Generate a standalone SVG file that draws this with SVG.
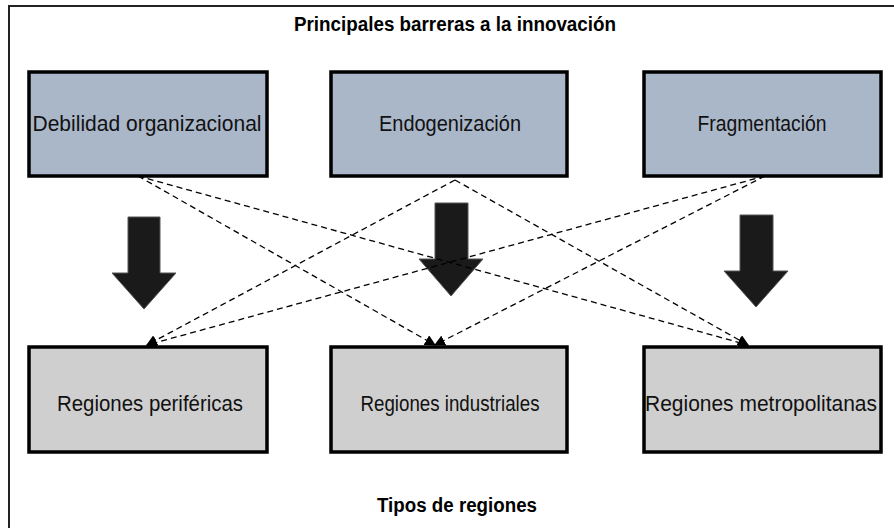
<svg xmlns="http://www.w3.org/2000/svg" width="894" height="528" viewBox="0 0 894 528">
  <defs>
    <style>
      .frame { fill: #ffffff; stroke: #222222; stroke-width: 2; }
      .top { fill: #aab7c9; stroke: #000000; stroke-width: 3.5; }
      .bot { fill: #d0cfd0; stroke: #000000; stroke-width: 3.5; }
      .lbl { font-family: "Liberation Sans", Arial, sans-serif; font-size: 22px; fill: #111111; text-anchor: middle; }
      .ttl { font-family: "Liberation Sans", Arial, sans-serif; font-size: 20px; font-weight: bold; fill: #000000; text-anchor: middle; }
      .dash { fill: none; stroke: #000000; stroke-width: 1.3; stroke-dasharray: 6 4; marker-end: url(#ah); }
      .big { fill: #1a1a1a; stroke: #555555; stroke-width: 1; }
    </style>
    <marker id="ah" viewBox="0 0 10 10" refX="9" refY="5" markerWidth="11" markerHeight="11" markerUnits="userSpaceOnUse" orient="auto">
      <path d="M0,0 L10,5 L0,10 Z" fill="#000000"/>
    </marker>
  </defs>

  <rect x="0" y="0" width="894" height="528" fill="#ffffff"/>
  <rect class="frame" x="9" y="6" width="900" height="540"/>

  <text id="title" class="ttl" x="455" y="31" textLength="322" lengthAdjust="spacingAndGlyphs">Principales barreras a la innovación</text>
  <text id="subtitle" class="ttl" x="457" y="512" textLength="160" lengthAdjust="spacingAndGlyphs">Tipos de regiones</text>

  <g id="big-arrows">
    <path class="big" d="M128,217 H160 V273 H176 L144,309 L112,273 H128 Z"/>
    <path class="big" d="M435,203 H468 V259 H483 L451,296 L419,259 H435 Z"/>
    <path class="big" d="M740,215 H773 V271 H788 L756,307 L724,271 H740 Z"/>
  </g>

  <g id="node-debilidad">
    <rect class="top" x="29" y="72" width="238" height="104"/>
    <text class="lbl" x="147" y="131" textLength="229" lengthAdjust="spacingAndGlyphs">Debilidad organizacional</text>
  </g>
  <g id="node-endogenizacion">
    <rect class="top" x="331" y="72" width="236" height="104"/>
    <text class="lbl" x="450" y="131" textLength="142" lengthAdjust="spacingAndGlyphs">Endogenización</text>
  </g>
  <g id="node-fragmentacion">
    <rect class="top" x="644" y="72" width="237" height="104"/>
    <text class="lbl" x="762" y="131" textLength="129" lengthAdjust="spacingAndGlyphs">Fragmentación</text>
  </g>

  <g id="node-perifericas">
    <rect class="bot" x="29" y="347" width="238" height="105"/>
    <text class="lbl" x="150" y="411" textLength="186" lengthAdjust="spacingAndGlyphs">Regiones periféricas</text>
  </g>
  <g id="node-industriales">
    <rect class="bot" x="331" y="347" width="236" height="105"/>
    <text class="lbl" x="450" y="411" textLength="179" lengthAdjust="spacingAndGlyphs">Regiones industriales</text>
  </g>
  <g id="node-metropolitanas">
    <rect class="bot" x="644" y="347" width="237" height="105"/>
    <text class="lbl" x="761" y="411" textLength="232" lengthAdjust="spacingAndGlyphs">Regiones metropolitanas</text>
  </g>

  <g id="connectors">
    <line class="dash" x1="138" y1="176" x2="435" y2="345"/>
    <line class="dash" x1="138" y1="176" x2="748" y2="345"/>
    <line class="dash" x1="455" y1="180" x2="147" y2="345"/>
    <line class="dash" x1="455" y1="180" x2="748" y2="345"/>
    <line class="dash" x1="765" y1="176" x2="147" y2="345"/>
    <line class="dash" x1="765" y1="176" x2="435" y2="345"/>
  </g>
</svg>
